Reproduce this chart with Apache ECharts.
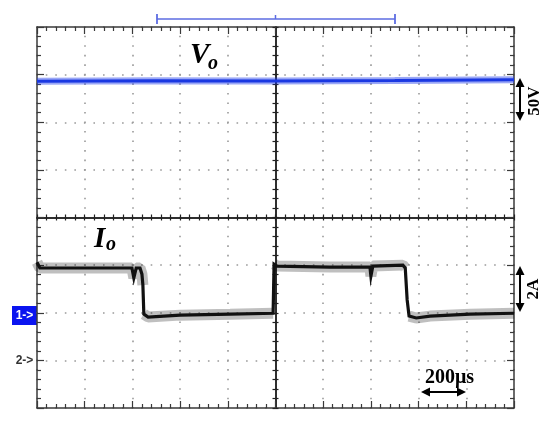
<!DOCTYPE html>
<html>
<head>
<meta charset="utf-8">
<script src="https://cdn.jsdelivr.net/npm/echarts@6/dist/echarts.min.js"></script>
<style>
html,body{margin:0;padding:0;background:#fff;}
#chart{width:550px;height:424px;}
</style>
</head>
<body>
<div id="chart"></div>
<script>
// Time axis in divisions (200 µs/div), centre = 0
const VO_X = [-5, -2.5, 0, 2.5, 5];
// Vo trace in divisions above centre (50 V/div)
const VO_Y = [2.86, 2.87, 2.865, 2.875, 2.89];
// Io trace (2 A/div)
const IO_X = [-5.00, -4.94, -3.68, -3.01, -2.97, -2.92, -2.84, -2.80, -2.78, -2.76, -2.67, -2.00, -0.95, -0.05,
              -0.03, 0.03, 1.14, 1.98, 2.00, 2.04, 2.67, 2.72, 2.76, 2.80, 2.95, 3.24, 4.08, 5.00];
const IO_Y = [-0.94, -1.06, -1.06, -1.06, -1.27, -1.06, -1.06, -1.19, -1.42, -2.03, -2.09, -2.05, -2.03, -2.01,
              -0.98, -1.02, -1.04, -1.04, -1.23, -1.02, -1.00, -1.06, -1.73, -2.07, -2.11, -2.07, -2.03, -2.01];
const X_MIN = -5, X_MAX = 5, Y_MIN = -4, Y_MAX = 4;
const LABEL_VO = ['V', 'o'];
const LABEL_IO = ['I', 'o'];
const SCALE_V = '50V', SCALE_I = '2A', SCALE_T = '200μs';
const CH1 = '1->', CH2 = '2->';

const voData = VO_X.map((x, i) => [x, VO_Y[i]]);
const ioData = IO_X.map((x, i) => [x, IO_Y[i]]);
// band (noise envelope) only along flat levels: break at the edges
const ioBand = [];
IO_X.forEach((x, i) => {
  if (i > 0 && Math.abs(IO_Y[i] - IO_Y[i - 1]) > 0.3) ioBand.push(null);
  ioBand.push([x, IO_Y[i]]);
});

const frameColor = '#3a3a3a';
function axisBase(kind, extra) {
  const o = {
    type: 'value',
    min: kind === 'x' ? X_MIN : Y_MIN,
    max: kind === 'x' ? X_MAX : Y_MAX,
    interval: 1,
    axisLabel: { show: false },
    splitLine: { show: false },
    axisLine: { show: true, onZero: false, lineStyle: { color: frameColor, width: 1.5 } },
    axisTick: { show: true, inside: true, length: 7, lineStyle: { color: frameColor, width: 1.2 } },
    minorTick: { show: true, splitNumber: 5, length: 4, lineStyle: { color: frameColor, width: 1.2 } }
  };
  return Object.assign(o, extra);
}
const dotted = (period) => ({ show: true, lineStyle: { color: '#9a9a9a', width: 1.6, type: [1.6, period - 1.6], dashOffset: 0.8 } });
const centreLine = { show: true, onZero: true, onZeroAxisIndex: 0, lineStyle: { color: '#222', width: 1.5 } };
const centreTick = { show: true, inside: true, length: 3, lineStyle: { color: '#222', width: 1.2 } };
const centreMinor = { show: true, splitNumber: 5, length: 3, lineStyle: { color: '#222', width: 1.2 } };

const chart = echarts.init(document.getElementById('chart'), null, { renderer: 'canvas' });
const blue = '#5d6ce2';
const serif = '"Liberation Serif", "Times New Roman", serif';
chart.setOption({
  animation: false,
  backgroundColor: '#fff',
  grid: { left: 37, top: 27, width: 477, height: 381, containLabel: false },
  xAxis: [
    axisBase('x', { position: 'bottom', splitLine: dotted(381 / 40) }),
    axisBase('x', { position: 'top' }),
    axisBase('x', { position: 'bottom', axisLine: centreLine, axisTick: centreTick, minorTick: centreMinor }),
    axisBase('x', { position: 'top', axisLine: centreLine, axisTick: centreTick, minorTick: centreMinor })
  ],
  yAxis: [
    axisBase('y', { position: 'left', splitLine: dotted(477 / 50) }),
    axisBase('y', { position: 'right' }),
    axisBase('y', { position: 'left', axisLine: centreLine, axisTick: centreTick, minorTick: centreMinor }),
    axisBase('y', { position: 'right', axisLine: centreLine, axisTick: centreTick, minorTick: centreMinor })
  ],
  series: [
    { type: 'line', xAxisIndex: 0, yAxisIndex: 0, data: voData, showSymbol: false, silent: true,
      lineStyle: { color: 'rgba(30,60,235,0.45)', width: 7, cap: 'butt' }, z: 3 },
    { type: 'line', xAxisIndex: 0, yAxisIndex: 0, data: voData, showSymbol: false, silent: true,
      lineStyle: { color: '#1a38e2', width: 3, cap: 'butt' }, z: 4 },
    { type: 'line', xAxisIndex: 0, yAxisIndex: 0, data: ioBand, showSymbol: false, silent: true, connectNulls: false,
      lineStyle: { color: 'rgba(0,0,0,0.25)', width: 11, cap: 'butt' }, z: 3 },
    { type: 'line', xAxisIndex: 0, yAxisIndex: 0, data: ioData, showSymbol: false, silent: true,
      lineStyle: { color: '#111', width: 3.2, cap: 'butt', join: 'miter' }, z: 4 }
  ],
  graphic: [
    // trigger/position bracket at top
    { type: 'polyline', shape: { points: [[157, 19], [395, 19]] }, style: { stroke: blue, lineWidth: 1.6 } },
    { type: 'polyline', shape: { points: [[157, 14], [157, 24]] }, style: { stroke: blue, lineWidth: 1.8 } },
    { type: 'polyline', shape: { points: [[395, 14], [395, 24]] }, style: { stroke: blue, lineWidth: 1.8 } },
    { type: 'polyline', shape: { points: [[275.5, 15], [275.5, 19]] }, style: { stroke: blue, lineWidth: 1.5 } },
    // trace labels
    { type: 'text', style: { x: 190, y: 56, text: LABEL_VO[0], font: 'italic bold 29px ' + serif, fill: '#000', verticalAlign: 'middle' }, z: 10 },
    { type: 'text', style: { x: 208, y: 64, text: LABEL_VO[1], font: 'italic bold 20px ' + serif, fill: '#000', verticalAlign: 'middle' }, z: 10 },
    { type: 'text', style: { x: 94, y: 240, text: LABEL_IO[0], font: 'italic bold 29px ' + serif, fill: '#000', verticalAlign: 'middle' }, z: 10 },
    { type: 'text', style: { x: 106, y: 245, text: LABEL_IO[1], font: 'italic bold 20px ' + serif, fill: '#000', verticalAlign: 'middle' }, z: 10 },
    // 50V scale arrow
    { type: 'polyline', shape: { points: [[520, 84], [520, 116]] }, style: { stroke: '#000', lineWidth: 2 } },
    { type: 'polygon', shape: { points: [[520, 78], [515.5, 87], [524.5, 87]] }, style: { fill: '#000' } },
    { type: 'polygon', shape: { points: [[520, 121], [515.5, 112], [524.5, 112]] }, style: { fill: '#000' } },
    { type: 'text', x: 535, y: 101, rotation: Math.PI / 2,
      style: { x: 0, y: 0, text: SCALE_V, font: 'bold 17px ' + serif, fill: '#000', align: 'center', verticalAlign: 'middle' } },
    // 2A scale arrow
    { type: 'polyline', shape: { points: [[520, 272], [520, 306]] }, style: { stroke: '#000', lineWidth: 2 } },
    { type: 'polygon', shape: { points: [[520, 266], [515.5, 275], [524.5, 275]] }, style: { fill: '#000' } },
    { type: 'polygon', shape: { points: [[520, 312], [515.5, 303], [524.5, 303]] }, style: { fill: '#000' } },
    { type: 'text', x: 534, y: 289, rotation: Math.PI / 2,
      style: { x: 0, y: 0, text: SCALE_I, font: 'bold 17px ' + serif, fill: '#000', align: 'center', verticalAlign: 'middle' } },
    // 200us time arrow
    { type: 'polyline', shape: { points: [[426, 392], [461, 392]] }, style: { stroke: '#000', lineWidth: 2 } },
    { type: 'polygon', shape: { points: [[421, 392], [430, 387.5], [430, 396.5]] }, style: { fill: '#000' } },
    { type: 'polygon', shape: { points: [[466, 392], [457, 387.5], [457, 396.5]] }, style: { fill: '#000' } },
    { type: 'text', style: { x: 449.5, y: 378, text: SCALE_T, font: 'bold 20px ' + serif, fill: '#000', align: 'center', verticalAlign: 'middle' } },
    // channel markers
    { type: 'rect', shape: { x: 12, y: 306, width: 25, height: 19 }, style: { fill: '#0a14f0' } },
    { type: 'text', style: { x: 24.5, y: 315.5, text: CH1, font: 'bold 12px "Liberation Sans", Arial, sans-serif', fill: '#fff', align: 'center', verticalAlign: 'middle' } },
    { type: 'text', style: { x: 24.5, y: 361, text: CH2, font: 'bold 12px "Liberation Sans", Arial, sans-serif', fill: '#333', align: 'center', verticalAlign: 'middle' } }
  ]
});
</script>
</body>
</html>
